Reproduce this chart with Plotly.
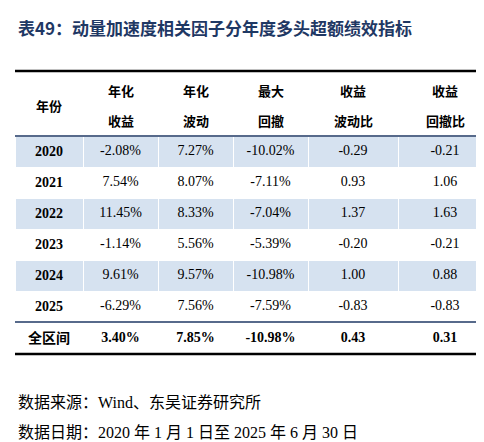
import plotly.graph_objects as go

years = ["2020", "2021", "2022", "2023", "2024", "2025", "全区间"]
ann_ret = [-2.08, 7.54, 11.45, -1.14, 9.61, -6.29, 3.40]
ann_vol = [7.27, 8.07, 8.33, 5.56, 9.57, 7.56, 7.85]
max_dd = [-10.02, -7.11, -7.04, -5.39, -10.98, -7.59, -10.98]
ret_vol = [-0.29, 0.93, 1.37, -0.20, 1.00, -0.83, 0.43]
ret_dd = [-0.21, 1.06, 1.63, -0.21, 0.88, -0.83, 0.31]
headers = [["年份"], ["年化", "收益"], ["年化", "波动"], ["最大", "回撤"], ["收益", "波动比"], ["收益", "回撤比"]]
colw = [68, 75, 75, 75, 90, 94]

n = len(years)
def fmt(vals, pct):
    out = []
    for i, v in enumerate(vals):
        s = f"{v:.2f}%" if pct else f"{v:.2f}"
        out.append(f"<b>{s}</b>" if i == n - 1 else s)
    return out

cols = [[f"<b>{y}</b>" for y in years], fmt(ann_ret, True), fmt(ann_vol, True),
        fmt(max_dd, True), fmt(ret_vol, False), fmt(ret_dd, False)]
blue = "#d6e2f0"
fills = [blue if i % 2 == 0 and i < n - 1 else "white" for i in range(n)]

W, H = 484, 442
top, bot = 63, 346
x0 = 7
fig = go.Figure(go.Table(
    domain=dict(x=[x0 / W, 1], y=[1 - bot / H, 1 - top / H]),
    columnwidth=colw,
    header=dict(values=[""] * 6, height=65, fill_color="white",
                line=dict(color="white", width=1)),
    cells=dict(values=cols, height=31, fill_color=[fills] * 6,
               line=dict(color="white", width=1),
               font=dict(family="Liberation Serif, Noto Sans CJK SC", size=14, color="black"),
               align="center"),
))

# header labels
tot = sum(colw)
acc = 0
for w, lab in zip(colw, headers):
    cx = (x0 + (acc + w / 2) / tot * (W - x0)) / W
    acc += w
    ys = [97] if len(lab) == 1 else [82, 112]
    for t, yy in zip(lab, ys):
        fig.add_annotation(x=cx, y=1 - yy / H, xref="paper", yref="paper", text=f"<b>{t}</b>",
                           showarrow=False, xanchor="center", yanchor="middle",
                           font=dict(family="Noto Sans CJK SC", size=13, color="black"))

def hline(y, w, c):
    fig.add_shape(type="line", xref="paper", yref="paper", x0=x0 / W, x1=1,
                  y0=1 - y / H, y1=1 - y / H, line=dict(color=c, width=w))
hline(top, 2.5, "black")
hline(128, 1.5, "#1f3864")
hline(314, 1.5, "#1f3864")
hline(bot, 2.5, "black")

fig.add_annotation(x=8 / W, y=1 - 20 / H, xref="paper", yref="paper", xanchor="left", yanchor="middle",
                   text="<b>表49：动量加速度相关因子分年度多头超额绩效指标</b>", showarrow=False,
                   font=dict(family="Noto Sans CJK SC", size=17, color="#1f3864"))
fig.add_annotation(x=8 / W, y=1 - 394 / H, xref="paper", yref="paper", xanchor="left", yanchor="middle",
                   text="数据来源：Wind、东吴证券研究所", showarrow=False,
                   font=dict(family="Liberation Serif, Noto Sans CJK SC", size=16, color="black"))
fig.add_annotation(x=8 / W, y=1 - 424 / H, xref="paper", yref="paper", xanchor="left", yanchor="middle",
                   text="数据日期：2020 年 1 月 1 日至 2025 年 6 月 30 日", showarrow=False,
                   font=dict(family="Liberation Serif, Noto Sans CJK SC", size=16, color="black"))

fig.update_layout(width=W, height=H, margin=dict(l=0, r=0, t=0, b=0),
                  paper_bgcolor="white", plot_bgcolor="white")
fig.write_html("out.html")
